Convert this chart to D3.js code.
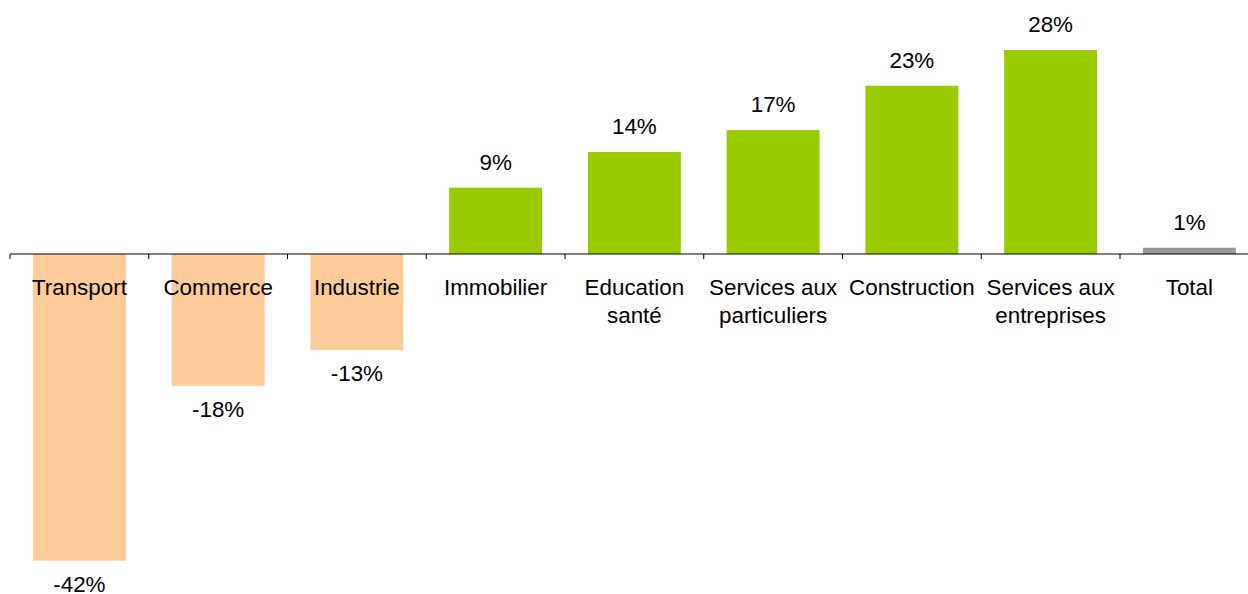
<!DOCTYPE html>
<html>
<head>
<meta charset="utf-8">
<script src="https://cdn.jsdelivr.net/npm/d3@7"></script>
<style>
  html, body { margin: 0; padding: 0; background: #fff; }
  svg { display: block; }
  text { font-family: "Liberation Sans", Arial, sans-serif; font-size: 22.4px; fill: #000; }
</style>
</head>
<body>
<svg id="chart" width="1248" height="594"></svg>
<script>
const categories = [
  ["Transport"],
  ["Commerce"],
  ["Industrie"],
  ["Immobilier"],
  ["Education", "santé"],
  ["Services aux", "particuliers"],
  ["Construction"],
  ["Services aux", "entreprises"],
  ["Total"]
];
const values = [-42.1, -18.1, -13.2, 9.1, 14.0, 17.0, 23.1, 28.0, 0.86];
const valueLabels = ["-42%", "-18%", "-13%", "9%", "14%", "17%", "23%", "28%", "1%"];

const colorNeg = "#FFCC99", colorPos = "#99CC00", colorTotal = "#999999";

const svg = d3.select("#chart");
const keys = categories.map(c => c.join(" "));

const x = d3.scaleBand().domain(keys).range([10, 10 + 9 * 138.75])
  .paddingInner(0.33).paddingOuter(0.165);
const y = d3.scaleLinear().domain([-45, 30]).range([254 + 45 * 7.285, 254 - 30 * 7.285]);

const data = keys.map((k, i) => ({ key: k, lines: categories[i], v: values[i], label: valueLabels[i], i }));

svg.selectAll("rect.bar").data(data).enter().append("rect")
  .attr("class", "bar")
  .attr("x", d => x(d.key))
  .attr("width", x.bandwidth())
  .attr("y", d => y(Math.max(0, d.v)))
  .attr("height", d => Math.abs(y(d.v) - y(0)))
  .attr("fill", d => d.i === data.length - 1 ? colorTotal : (d.v < 0 ? colorNeg : colorPos));

// axis line and boundary ticks
const y0 = y(0);
const step = x.step();
const boundaries = d3.range(keys.length + 1).map(i => 10 + i * step);
svg.append("line").attr("x1", 10).attr("x2", boundaries[boundaries.length - 1])
  .attr("y1", y0).attr("y2", y0).attr("stroke", "#000").attr("stroke-width", 1.2);
svg.selectAll("line.tick").data(boundaries).enter().append("line")
  .attr("class", "tick")
  .attr("x1", d => d).attr("x2", d => d)
  .attr("y1", y0).attr("y2", y0 + 5)
  .attr("stroke", "#000").attr("stroke-width", 1);

// category labels
const cat = svg.selectAll("text.cat").data(data).enter().append("text")
  .attr("class", "cat")
  .attr("text-anchor", "middle")
  .attr("x", d => x(d.key) + x.bandwidth() / 2)
  .attr("y", y0 + 40.5);
cat.selectAll("tspan").data(d => d.lines.map(l => ({ l, cx: x(d.key) + x.bandwidth() / 2 })))
  .enter().append("tspan")
  .attr("x", t => t.cx)
  .attr("dy", (t, j) => j === 0 ? 0 : 28)
  .text(t => t.l);

// value labels
svg.selectAll("text.val").data(data).enter().append("text")
  .attr("class", "val")
  .attr("text-anchor", "middle")
  .attr("x", d => x(d.key) + x.bandwidth() / 2)
  .attr("y", d => d.v < 0 ? y(d.v) + 31 : y(d.v) - 18)
  .text(d => d.label);
</script>
</body>
</html>
